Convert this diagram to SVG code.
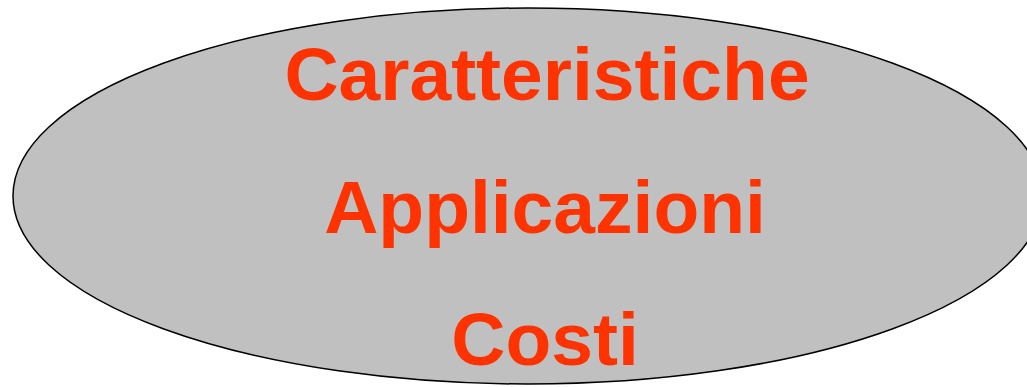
<svg xmlns="http://www.w3.org/2000/svg" width="1027" height="387" viewBox="0 0 1027 387">
<style>
.lbl{font-family:"Liberation Sans",Arial,sans-serif;font-weight:bold;font-size:75px;fill:#FF3300;text-anchor:middle}
</style>
<rect width="1027" height="387" fill="#ffffff"/>
<g id="ellipse-node">
<ellipse cx="528" cy="196" rx="515" ry="188" fill="#C0C0C0" stroke="#000000" stroke-width="1.5"/>
<text class="lbl" x="547" y="100">Caratteristiche</text>
<text class="lbl" x="545" y="233">Applicazioni</text>
<text class="lbl" x="545" y="365">Costi</text>
</g>
<g id="connectors"></g>
</svg>
